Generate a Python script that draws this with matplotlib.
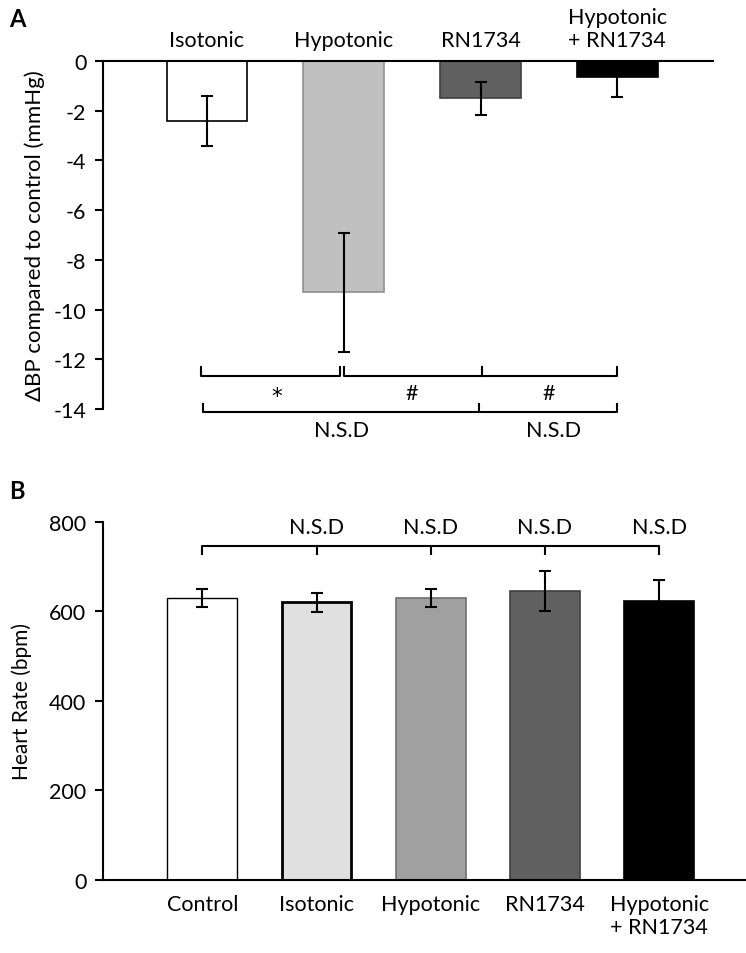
import numpy as np
import matplotlib.pyplot as plt

plt.rcParams['font.family'] = ['Lato', 'DejaVu Sans']
plt.rcParams['axes.unicode_minus'] = False

# panel A data
groups_a = ['Isotonic', 'Hypotonic', 'RN1734', 'Hypotonic\n+ RN1734']
dbp = [-2.4, -9.3, -1.5, -0.65]
dbp_err = [1.0, 2.4, 0.67, 0.8]
colors_a = ['white', '#c0c0c0', '#606060', 'black']
edges_a = ['black', '#909090', '#404040', 'black']

# panel B data
groups_b = ['Control', 'Isotonic', 'Hypotonic', 'RN1734', 'Hypotonic\n+ RN1734']
hr = [630, 620, 630, 646, 624]
hr_err = [20, 21, 20, 45, 47]
colors_b = ['white', '#e0e0e0', '#a0a0a0', '#606060', 'black']
edges_b = ['black', 'black', '#707070', '#404040', 'black']

fs = 15.5

fig = plt.figure(figsize=(7.46, 9.54), dpi=100)

# ---------- A ----------
ax = fig.add_axes([0.138, 0.570, 0.818, 0.365])
xa = np.arange(len(groups_a))
ax.bar(xa, dbp, width=0.59, color=colors_a, edgecolor=edges_a, linewidth=1.2)
ax.errorbar(xa, dbp, yerr=dbp_err, fmt='none', ecolor='black', elinewidth=1.5,
            capsize=4.3, capthick=1.5)
ax.set_xlim(-0.76, 3.70)
ax.set_ylim(-14, 0)
ax.set_yticks(np.arange(-14, 1, 2))
ax.set_xticks([])
for s in ['right', 'bottom']:
    ax.spines[s].set_visible(False)
ax.spines['top'].set_linewidth(1.5)
ax.spines['left'].set_linewidth(1.5)
ax.tick_params(axis='y', labelsize=fs, width=1.5, length=6, pad=6)
ax.set_ylabel('ΔBP compared to control (mmHg)', fontsize=16, labelpad=6)
for i, g in enumerate(groups_a):
    ax.text(xa[i], 0.45, g, ha='center', va='bottom', fontsize=fs,
            linespacing=1.2, clip_on=False)

# significance brackets
kw = dict(color='black', lw=1.5, clip_on=False)
yb1, yt1 = -12.65, -12.3
ax.plot([-0.04, -0.04, 0.97, 0.97], [yt1, yb1, yb1, yt1], **kw)
ax.plot([1.0, 1.0, 3.0, 3.0], [yt1, yb1, yb1, yt1], **kw)
ax.plot([2.01, 2.01], [yb1, yt1], **kw)
ax.text(0.51, -13.45, '*', ha='center', va='center', fontsize=fs, family='DejaVu Sans')
ax.text(1.5, -13.35, '#', ha='center', va='center', fontsize=fs)
ax.text(2.5, -13.35, '#', ha='center', va='center', fontsize=fs)
yb2, yt2 = -14.1, -13.8
ax.plot([-0.03, -0.03, 3.0, 3.0], [yt2, yb2, yb2, yt2], **kw)
ax.plot([1.99, 1.99], [yb2, yt2], **kw)
ax.text(0.98, -14.85, 'N.S.D', ha='center', va='center', fontsize=fs, clip_on=False)
ax.text(2.53, -14.85, 'N.S.D', ha='center', va='center', fontsize=fs, clip_on=False)

fig.text(0.012, 0.992, 'A', fontsize=17, fontweight='bold', va='top')

# ---------- B ----------
bx = fig.add_axes([0.138, 0.0765, 0.862, 0.3755])
xb = np.arange(len(groups_b))
bx.bar(xb, hr, width=0.61, color=colors_b, edgecolor=edges_b, linewidth=[1.0, 2.0, 1.2, 1.2, 1.2])
bx.errorbar(xb, hr, yerr=hr_err, fmt='none', ecolor='black', elinewidth=1.5,
            capsize=4.3, capthick=1.5)
bx.set_xlim(-0.87, 4.76)
bx.set_ylim(0, 800)
bx.set_yticks(np.arange(0, 801, 200))
bx.set_xticks(xb)
bx.set_xticklabels(groups_b, fontsize=fs, linespacing=1.2)
bx.tick_params(axis='x', length=0, pad=10)
bx.tick_params(axis='y', labelsize=fs, width=1.5, length=6, pad=6)
for s in ['right', 'top']:
    bx.spines[s].set_visible(False)
bx.spines['left'].set_linewidth(1.5)
bx.spines['bottom'].set_linewidth(1.5)
bx.set_ylabel('Heart Rate (bpm)', fontsize=15, labelpad=12)

# bracket
ybr, ytk = 746, 728
bx.plot([xb[0], xb[0], xb[-1], xb[-1]], [ytk, ybr, ybr, ytk], color='black', lw=1.5)
for i in xb[1:-1]:
    bx.plot([i, i], [ybr, ytk], color='black', lw=1.5)
for i in xb[1:]:
    bx.text(i, 765, 'N.S.D', ha='center', va='bottom', fontsize=fs)

fig.text(0.012, 0.497, 'B', fontsize=17, fontweight='bold', va='top')

fig.savefig('out.png', dpi=100)
